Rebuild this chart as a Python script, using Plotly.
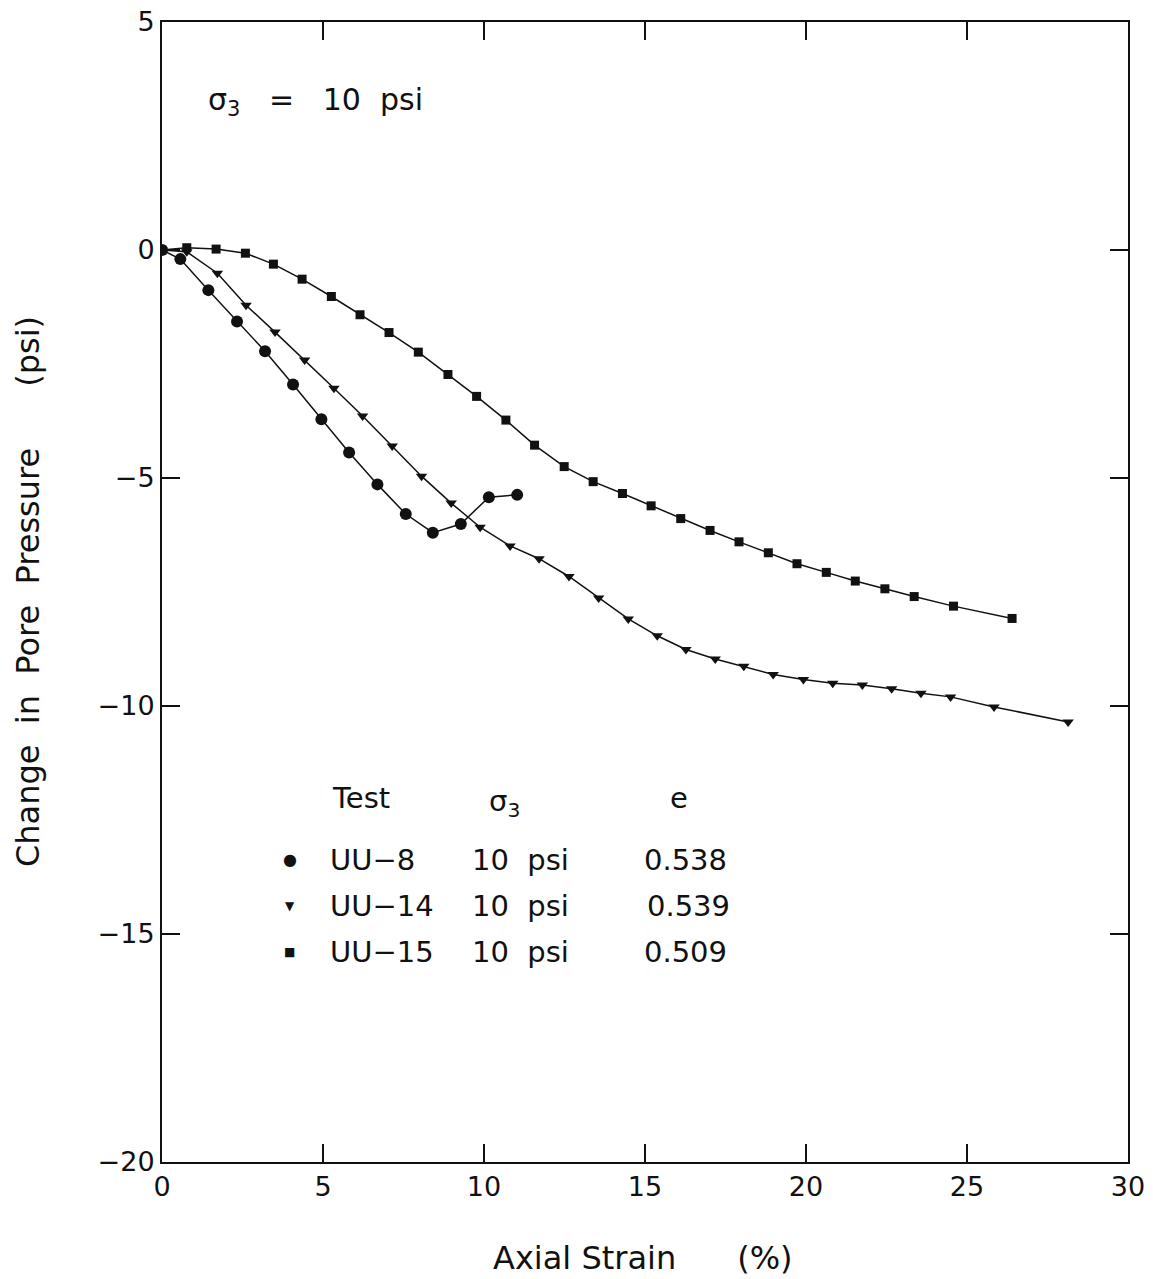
import plotly.graph_objects as go

# UU-8 (circles)
uu8_x = [0.0, 0.57, 1.44, 2.33, 3.20, 4.07, 4.95, 5.81, 6.69, 7.57, 8.41, 9.28, 10.15, 11.03]
uu8_y = [0.0, -0.20, -0.88, -1.57, -2.22, -2.95, -3.71, -4.44, -5.14, -5.79, -6.20, -6.01, -5.42, -5.37]

# UU-14 (down triangles)
uu14_x = [0.0, 0.77, 1.72, 2.61, 3.51, 4.43, 5.34, 6.23, 7.15, 8.06, 8.98, 9.88, 10.81, 11.71,
          12.64, 13.56, 14.48, 15.38, 16.27, 17.18, 18.07, 18.98, 19.92, 20.83, 21.75, 22.66,
          23.57, 24.49, 25.84, 28.14]
uu14_y = [0.0, -0.04, -0.51, -1.21, -1.80, -2.41, -3.03, -3.64, -4.30, -4.96, -5.55, -6.08, -6.49, -6.77,
          -7.16, -7.63, -8.09, -8.46, -8.76, -8.97, -9.13, -9.31, -9.42, -9.50, -9.54, -9.62,
          -9.72, -9.80, -10.02, -10.35]

# UU-15 (squares)
uu15_x = [0.0, 0.77, 1.68, 2.59, 3.46, 4.35, 5.26, 6.15, 7.05, 7.96, 8.88, 9.77, 10.68, 11.57,
          12.49, 13.39, 14.30, 15.19, 16.11, 17.02, 17.92, 18.83, 19.72, 20.63, 21.53, 22.45,
          23.36, 24.58, 26.40]
uu15_y = [0.0, 0.05, 0.02, -0.07, -0.31, -0.64, -1.02, -1.42, -1.81, -2.24, -2.73, -3.21, -3.73, -4.28,
          -4.75, -5.08, -5.34, -5.61, -5.89, -6.15, -6.40, -6.64, -6.88, -7.07, -7.26, -7.43,
          -7.60, -7.81, -8.08]

x_ticks = [0, 5, 10, 15, 20, 25, 30]
y_ticks = [5, 0, -5, -10, -15, -20]

tests = ["UU\u22128", "UU\u221214", "UU\u221215"]
sigma3 = ["10\u00a0\u00a0psi", "10\u00a0\u00a0psi", "10\u00a0\u00a0psi"]
void_ratio = ["0.538", "0.539", "0.509"]

FONT = "DejaVu Sans, sans-serif"
ink = "#111111"
NB = "\u00a0"

fig = go.Figure()
fig.add_trace(go.Scatter(x=uu15_x, y=uu15_y, mode="lines+markers",
                         line=dict(color=ink, width=1.5),
                         marker=dict(symbol="square", size=9, color=ink), name="UU-15"))
fig.add_trace(go.Scatter(x=uu14_x, y=uu14_y, mode="lines+markers",
                         line=dict(color=ink, width=1.5),
                         marker=dict(symbol="triangle-down", size=10, color=ink), name="UU-14"))
fig.add_trace(go.Scatter(x=uu8_x, y=uu8_y, mode="lines+markers",
                         line=dict(color=ink, width=1.5),
                         marker=dict(symbol="circle", size=12, color=ink), name="UU-8"))

axis_common = dict(showgrid=False, zeroline=False, showline=True, linecolor=ink, linewidth=2,
                   mirror="ticks", ticks="inside", ticklen=18, tickwidth=1.5, tickcolor=ink,
                   automargin=False,
                   tickfont=dict(family=FONT, size=27, color=ink))

fig.update_layout(
    width=1153, height=1279,
    margin=dict(l=162, r=25, t=22, b=117),
    plot_bgcolor="white", paper_bgcolor="white",
    showlegend=False,
    xaxis=dict(range=[0, 30], tickvals=x_ticks, ticktext=[str(v) for v in x_ticks],
               **axis_common),
    yaxis=dict(range=[-20, 5], tickvals=y_ticks,
               ticktext=[("\u2212" + str(-v)) if v < 0 else str(v) for v in y_ticks],
               **axis_common),
)

# axis titles as annotations (placed like the original)
fig.add_annotation(xref="paper", yref="paper", x=-0.1387, y=0.5, textangle=-90,
                   text="Change" + NB * 2 + "in" + NB * 2 + "Pore" + NB * 2 + "Pressure" + NB * 6 + "(psi)",
                   showarrow=False, xanchor="center", yanchor="middle",
                   font=dict(family=FONT, size=32, color=ink))
fig.add_annotation(xref="paper", yref="paper", x=0.498, y=-0.084,
                   text="Axial" + NB + "Strain" + NB * 6 + "(%)",
                   showarrow=False, xanchor="center", yanchor="middle",
                   font=dict(family=FONT, size=32, color=ink))

ann_font = dict(family=FONT, size=29, color=ink)
fig.add_annotation(xref="paper", yref="paper", x=0.046, y=0.93, xanchor="left", yanchor="middle",
                   showarrow=False, font=dict(family=FONT, size=30, color=ink),
                   text="σ<sub>3</sub>" + NB * 3 + "=" + NB * 3 + "10" + NB * 2 + "psi")

headers = [("Test", 0.174, 0.319), ("σ<sub>3</sub>", 0.336, 0.315), ("e", 0.524, 0.319)]
for t, xx, yy in headers:
    fig.add_annotation(xref="paper", yref="paper", x=xx, y=yy, text=t, xanchor="left",
                       yanchor="middle", showarrow=False, font=ann_font)

row_y = [0.265, 0.225, 0.184]
e_x = [0.497, 0.500, 0.497]
symbols = [("●", 16), ("▼", 12), ("■", 12)]
for i in range(3):
    fig.add_annotation(xref="paper", yref="paper", x=0.1325, y=row_y[i], text=symbols[i][0],
                       showarrow=False, xanchor="center", yanchor="middle",
                       font=dict(family="DejaVu Sans", size=symbols[i][1], color=ink))
    fig.add_annotation(xref="paper", yref="paper", x=0.172, y=row_y[i], text=tests[i],
                       xanchor="left", yanchor="middle", showarrow=False, font=ann_font)
    fig.add_annotation(xref="paper", yref="paper", x=0.319, y=row_y[i], text=sigma3[i],
                       xanchor="left", yanchor="middle", showarrow=False, font=ann_font)
    fig.add_annotation(xref="paper", yref="paper", x=e_x[i], y=row_y[i], text=void_ratio[i],
                       xanchor="left", yanchor="middle", showarrow=False, font=ann_font)

fig.write_html("out.html")
